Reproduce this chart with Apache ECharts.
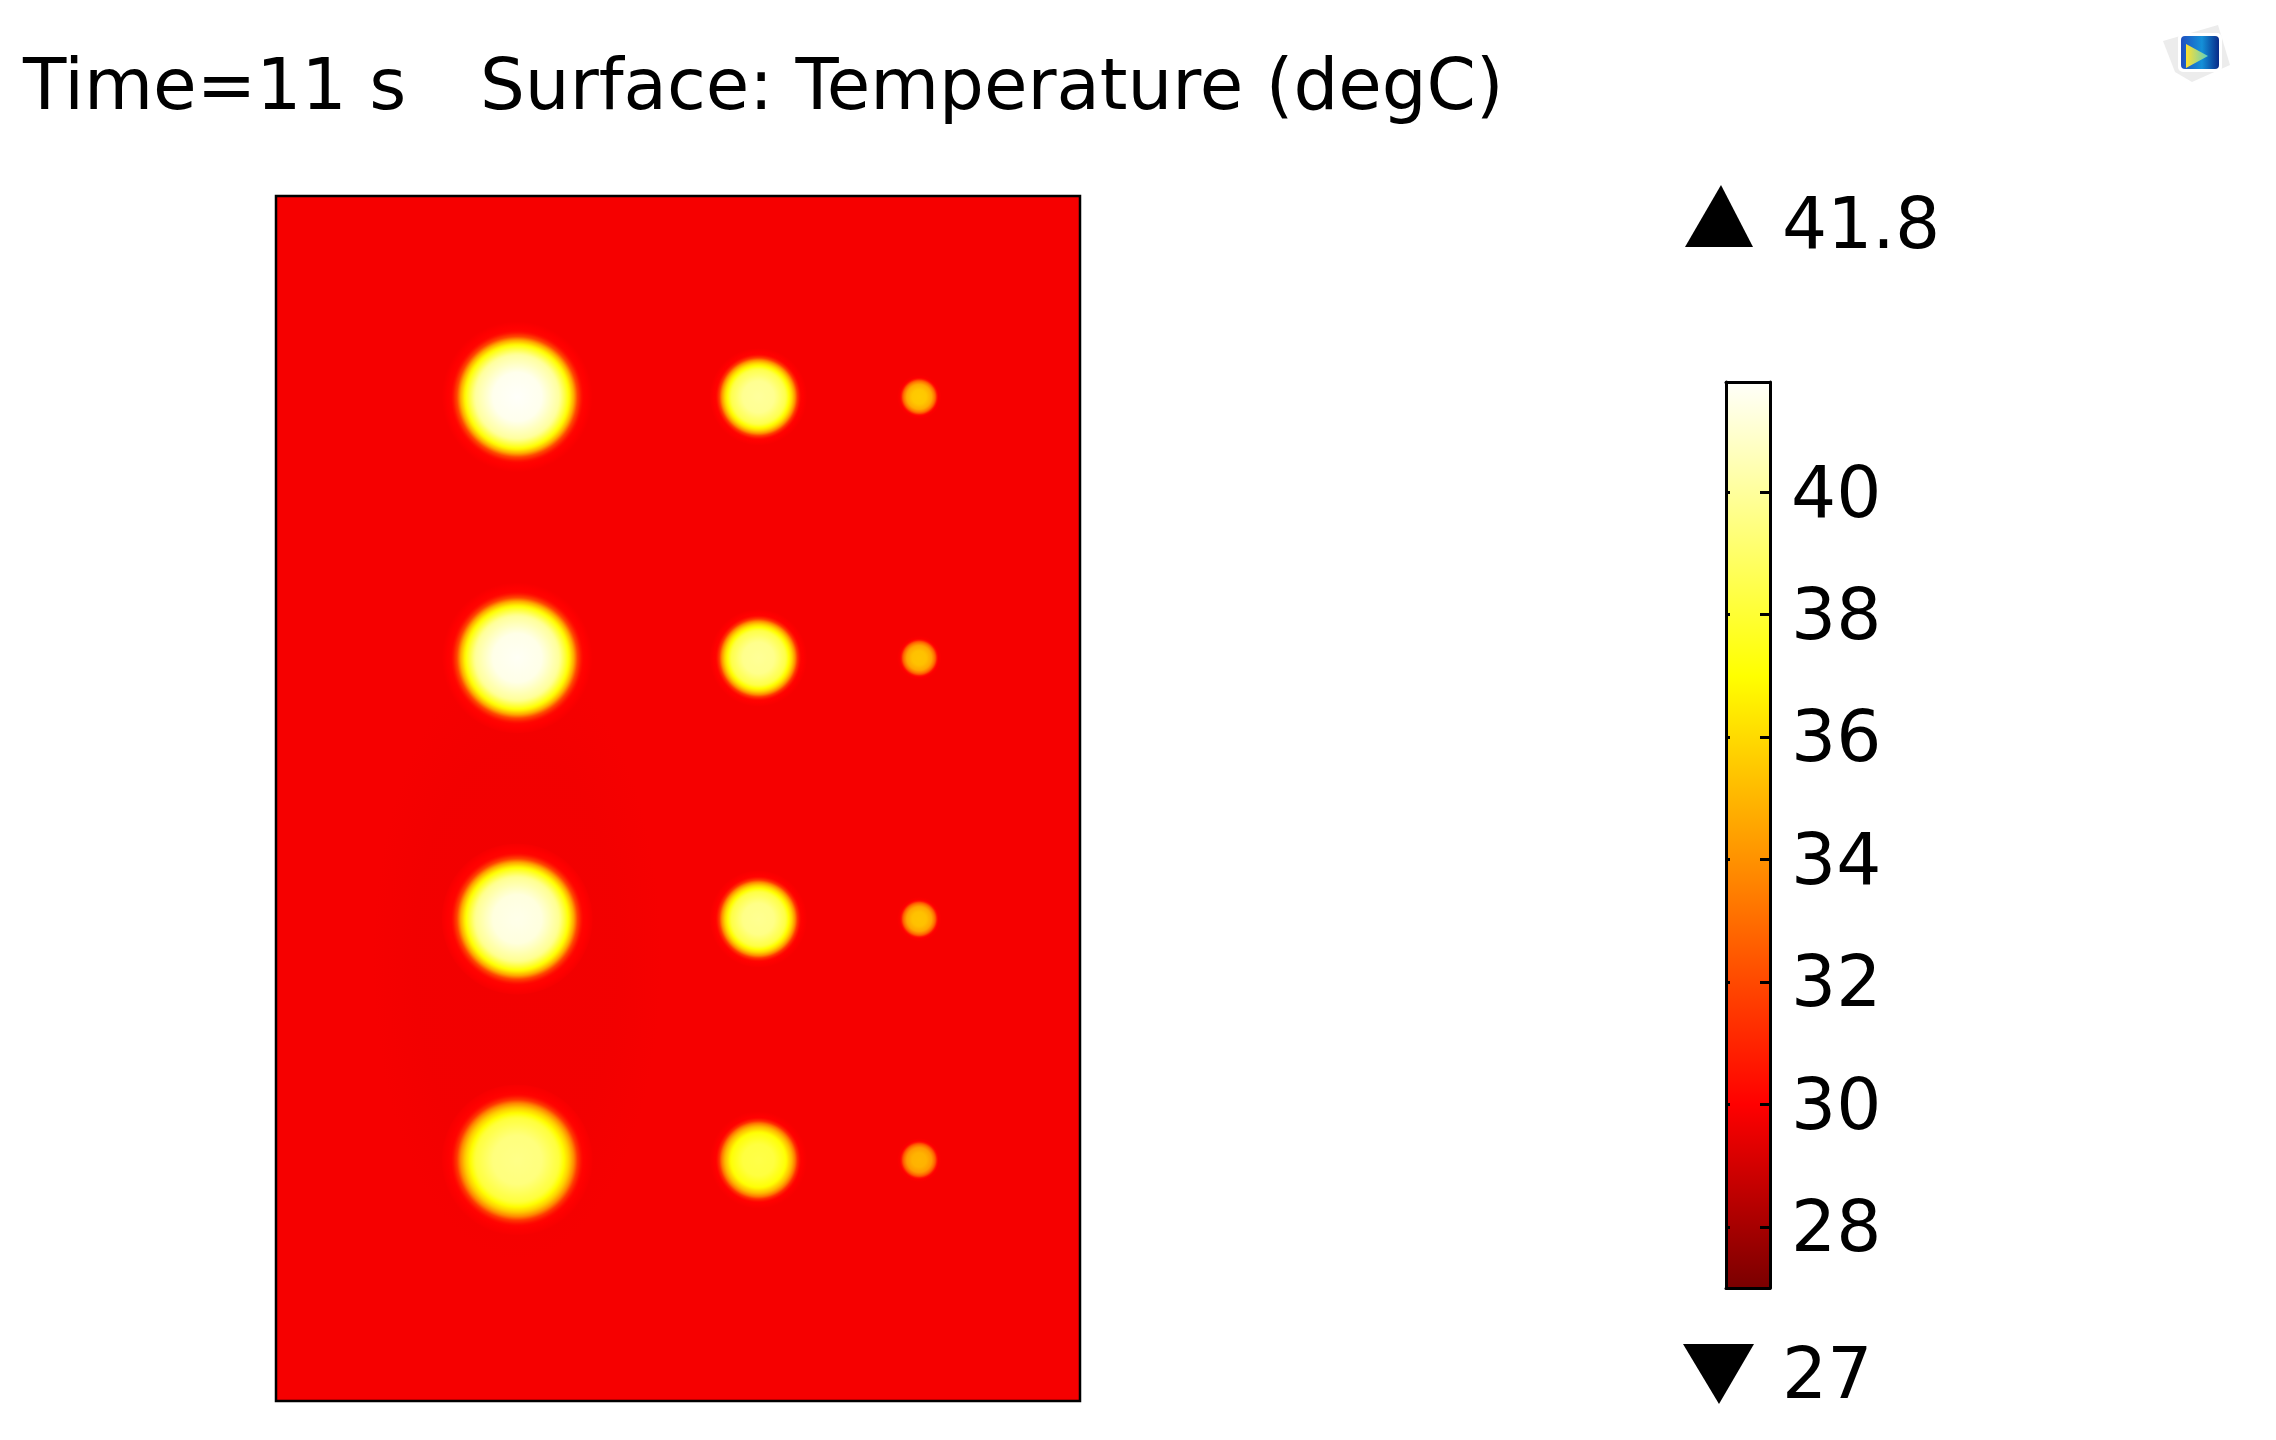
<!DOCTYPE html>
<html><head><meta charset="utf-8">
<style>html,body{margin:0;padding:0;background:#fff}#c{width:2276px;height:1440px}</style>
<script src="https://cdn.jsdelivr.net/npm/echarts@6/dist/echarts.min.js"></script>
</head><body><div id="c"></div>
<script>
// Plate size (mm-like units) and hot spots
const plateWidth = 20, plateHeight = 30;
const spotX = [6,6,6,6, 12,12,12,12, 16,16,16,16];
const spotY = [25,18.5,12,6, 25,18.5,12,6, 25,18.5,12,6];
const spotR = [1.5,1.5,1.5,1.5, 0.97,0.97,0.97,0.97, 0.44,0.44,0.44,0.44];
const spotPeak = [41.8,41.7,41.5,39.6, 40,39.9,39.8,38.4, 35.6,35.4,35.4,35];
const backgroundTemp = 29.8;
// Faint cooler patch around the lower big spots
const coolX = [6], coolY = [11], coolRx = [3.6], coolRy = [7.5], coolTemp = [29.7];
// Colour bar
const tempMin = 27, tempMax = 41.8;
const tickValues = [28,30,32,34,36,38,40];
const colorTemps = [27, 30, 37, 41.8];
const colorRGB = [[122,0,0],[255,0,0],[255,255,0],[255,255,250]];
// Radial temperature profile of a spot: radius fraction, share of the peak rise
const profileR = [0,0.4,0.7,0.86,0.94,1.0,1.08,1.25];
const profileF = [1,0.98,0.85,0.60,0.40,0.18,0.03,0];
const titleLeft = 'Time=11 s', titleRight = 'Surface: Temperature (degC)';

function tempColor(t, a){
  let i = 0;
  while(i < colorTemps.length-2 && t > colorTemps[i+1]) i++;
  const f = Math.max(0, Math.min(1,(t-colorTemps[i])/(colorTemps[i+1]-colorTemps[i])));
  const c = colorRGB[i].map((v,k)=>Math.round(v+(colorRGB[i+1][k]-v)*f));
  return a===undefined ? `rgb(${c})` : `rgba(${c},${a})`;
}
function profile(rf){
  let i = 0;
  while(i < profileR.length-2 && rf > profileR[i+1]) i++;
  const f = Math.min(1,(rf-profileR[i])/(profileR[i+1]-profileR[i]));
  return profileF[i]+(profileF[i+1]-profileF[i])*f;
}
function spotGradient(peak){
  const stops = [], rmax = profileR[profileR.length-1];
  for(let k=0;k<=40;k++){
    const o = k/40;
    stops.push({offset:o,color:tempColor(backgroundTemp+(peak-backgroundTemp)*profile(o*rmax))});
  }
  return new echarts.graphic.RadialGradient(0.5,0.5,0.5,stops);
}
const spots = spotX.map((x,i)=>[x,spotY[i],spotR[i],spotPeak[i]]);
const cool = coolX.map((x,i)=>[x,coolY[i],coolRx[i],coolRy[i],coolTemp[i]]);
const barStops = colorTemps.map((t,i)=>({offset:(tempMax-t)/(tempMax-tempMin),color:tempColor(t)})).reverse();

const frame = {show:true,onZero:false,lineStyle:{color:'#000',width:3}};
const txt = {fontFamily:'DejaVu Sans',color:'#000'};
const option = {
  animation:false,
  backgroundColor:'#fff',
  title:[
    {text:titleLeft,left:18,top:50,textStyle:{...txt,fontSize:71,fontWeight:'normal'}},
    {text:titleRight,left:475,top:50,textStyle:{...txt,fontSize:70.7,fontWeight:'normal'}}
  ],
  grid:[
    {left:276,top:196,width:804,height:1205,show:true,backgroundColor:tempColor(backgroundTemp),borderColor:'#000',borderWidth:2.5},
    {left:1726,top:382,width:44,height:906}
  ],
  xAxis:[
    {type:'value',gridIndex:0,min:0,max:plateWidth,show:false},
    {type:'category',gridIndex:1,data:['T'],position:'bottom',z:5,axisLine:frame,axisTick:{show:false},axisLabel:{show:false}},
    {type:'category',gridIndex:1,data:['T'],position:'top',z:5,axisLine:frame,axisTick:{show:false},axisLabel:{show:false}}
  ],
  yAxis:[
    {type:'value',gridIndex:0,min:0,max:plateHeight,show:false},
    {type:'value',gridIndex:1,min:tempMin,max:tempMax,position:'left',z:5,splitLine:{show:false},axisLine:frame,
     axisTick:{show:true,inside:true,length:4,customValues:tickValues,lineStyle:{color:'#000',width:3}},axisLabel:{show:false}},
    {type:'value',gridIndex:1,min:tempMin,max:tempMax,position:'right',z:5,splitLine:{show:false},axisLine:frame,
     axisTick:{show:true,inside:true,length:10,customValues:tickValues,lineStyle:{color:'#000',width:3}},
     axisLabel:{show:true,customValues:tickValues,margin:21,...txt,
       formatter:v=>'{a|'+v+'}',
       rich:{a:{fontSize:71,fontFamily:'DejaVu Sans',color:'#000',padding:[12,0,0,0]}}}}
  ],
  series:[
    {type:'custom',name:'Cool patch',coordinateSystem:'cartesian2d',xAxisIndex:0,yAxisIndex:0,data:cool,clip:true,silent:true,z:2,
     renderItem(p,api){
       const c = api.coord([api.value(0),api.value(1)]), s = api.size([api.value(2),api.value(3)]), t = api.value(4);
       return {type:'circle',x:c[0],y:c[1],scaleY:s[1]/s[0],shape:{cx:0,cy:0,r:s[0]},
         style:{fill:new echarts.graphic.RadialGradient(0.5,0.5,0.5,[
           {offset:0,color:tempColor(t,1)},{offset:0.7,color:tempColor(t,0.8)},{offset:1,color:tempColor(t,0)}])}};
     }},
    {type:'custom',name:'Temperature',coordinateSystem:'cartesian2d',xAxisIndex:0,yAxisIndex:0,data:spots,silent:true,z:3,
     renderItem(p,api){
       const c = api.coord([api.value(0),api.value(1)]), s = api.size([api.value(2),api.value(2)]);
       return {type:'circle',shape:{cx:c[0],cy:c[1],r:s[0]*profileR[profileR.length-1]},style:{fill:spotGradient(api.value(3))}};
     }},
    {type:'bar',name:'Colour bar',xAxisIndex:1,yAxisIndex:2,barWidth:'100%',silent:true,z:2,data:[tempMax],
     itemStyle:{color:new echarts.graphic.LinearGradient(0,0,0,1,barStops)}}
  ],
  graphic:[
    {type:'polygon',shape:{points:[[1721,185],[1753,247],[1685,247]]},style:{fill:'#000'}},
    {type:'polygon',shape:{points:[[1683,1344],[1754,1344],[1719,1404]]},style:{fill:'#000'}},
    {type:'text',x:1782,y:230,style:{text:String(tempMax),font:'71px "DejaVu Sans"',fill:'#000',verticalAlign:'middle'}},
    {type:'text',x:1782,y:1380,style:{text:String(tempMin),font:'71px "DejaVu Sans"',fill:'#000',verticalAlign:'middle'}},
    // COMSOL-style corner icon
    {type:'polygon',shape:{points:[[2163,41],[2218,25],[2230,65],[2192,82],[2175,72]]},style:{fill:'#ececec'}},
    {type:'rect',shape:{x:2178,y:33,width:44,height:39,r:5},style:{fill:'#fff'}},
    {type:'rect',shape:{x:2181,y:36,width:38,height:33,r:4},style:{fill:new echarts.graphic.LinearGradient(0,0,1,0,[
      {offset:0,color:'#1f4fc0'},{offset:0.55,color:'#1490d8'},{offset:1,color:'#082a88'}])}},
    {type:'polygon',shape:{points:[[2186,44],[2186,68],[2208,56]]},style:{fill:new echarts.graphic.LinearGradient(0,0,1,0,[
      {offset:0,color:'#ffe030'},{offset:1,color:'#60d0c0'}])}}
  ]
};
echarts.init(document.getElementById('c'),null,{renderer:'canvas'}).setOption(option);
</script></body></html>
